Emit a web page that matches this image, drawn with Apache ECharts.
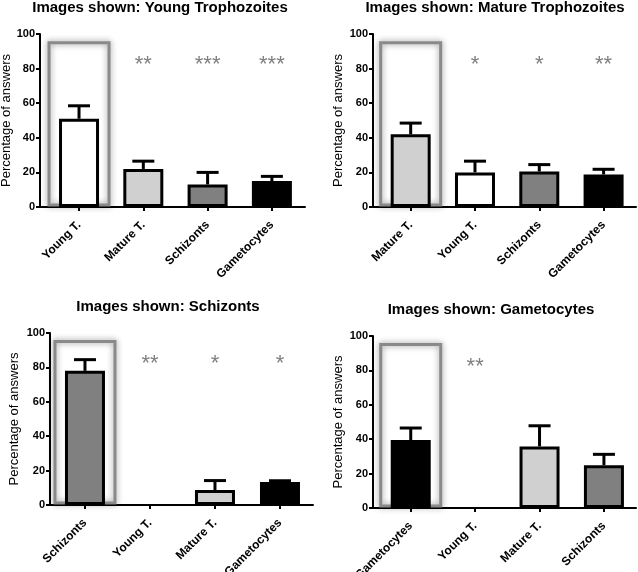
<!DOCTYPE html>
<html>
<head>
<meta charset="utf-8">
<script src="https://cdn.jsdelivr.net/npm/echarts@6/dist/echarts.min.js"></script>
<style>html,body{margin:0;padding:0;background:#fff}#c{width:638px;height:572px}</style>
</head>
<body>
<div id="c"></div>
<script>
// ---- data ----
const titles = ['Images shown: Young Trophozoites', 'Images shown: Mature Trophozoites', 'Images shown: Schizonts', 'Images shown: Gametocytes'];
const cats1 = ['Young T.', 'Mature T.', 'Schizonts', 'Gametocytes'];
const vals1 = [51, 22, 13, 15];
const errs1 = [7.5, 4.5, 7, 2.7];
const stars1 = ['', '**', '***', '***'];
const cats2 = ['Mature T.', 'Young T.', 'Schizonts', 'Gametocytes'];
const vals2 = [42, 20, 20.5, 18.8];
const errs2 = [6.5, 6.5, 4, 3];
const stars2 = ['', '*', '*', '**'];
const cats3 = ['Schizonts', 'Young T.', 'Mature T.', 'Gametocytes'];
const vals3 = [78, 0, 8.7, 13.3];
const errs3 = [6.5, 0, 5.5, 0.8];
const stars3 = ['', '**', '*', '*'];
const cats4 = ['Gametocytes', 'Young T.', 'Mature T.', 'Schizonts'];
const vals4 = [39.5, 0, 35.8, 24.9];
const errs4 = [7, 0, 12, 6.3];
const stars4 = ['', '**', '', ''];
const highlightValue = 95;
const starLevel = 82;

// ---- styling / layout ----
const FONT = 'Arial, "Liberation Sans", sans-serif';
const catColor = {'Young T.': '#ffffff', 'Mature T.': '#d0d0d0', 'Schizonts': '#808080', 'Gametocytes': '#000000'};
const panels = [
  {cats: cats1, vals: vals1, errs: errs1, stars: stars1, grid: {left: 40, top: 34, width: 265, height: 173}, xr: [-0.607, 3.515], titleX: 160, titleY: 0, nameGap: 27.5},
  {cats: cats2, vals: vals2, errs: errs2, stars: stars2, grid: {left: 373, top: 34, width: 263, height: 173}, xr: [-0.586, 3.504], titleX: 495, titleY: 0, nameGap: 28},
  {cats: cats3, vals: vals3, errs: errs3, stars: stars3, grid: {left: 50, top: 333, width: 263, height: 172}, xr: [-0.538, 3.508], titleX: 168, titleY: 299, nameGap: 29},
  {cats: cats4, vals: vals4, errs: errs4, stars: stars4, grid: {left: 373, top: 336, width: 263, height: 172}, xr: [-0.586, 3.498], titleX: 491, titleY: 302, nameGap: 28.5}
];

const option = {
  animation: false,
  backgroundColor: '#fff',
  title: [], grid: [], xAxis: [], yAxis: [], series: []
};

panels.forEach((p, k) => {
  option.title.push({
    text: titles[k], left: p.titleX, top: p.titleY, textAlign: 'center', padding: 0,
    textStyle: {fontFamily: FONT, fontSize: 15, fontWeight: 'bold', color: '#000'}
  });
  option.grid.push(Object.assign({containLabel: false, outerBoundsMode: 'none'}, p.grid));
  const idx = p.cats.map((_, i) => i);
  option.xAxis.push({
    type: 'value', gridIndex: k, min: p.xr[0], max: p.xr[1],
    splitLine: {show: false},
    axisLine: {show: true, onZero: false, lineStyle: {color: '#000', width: 2}},
    axisTick: {show: true, customValues: idx, length: 4, inside: false, lineStyle: {color: '#000', width: 2}},
    axisLabel: {
      customValues: idx, rotate: 45, margin: 16, color: '#000',
      fontFamily: FONT, fontSize: 12, fontWeight: 'bold',
      formatter: (v) => p.cats[Math.round(v)] || ''
    }
  });
  option.yAxis.push({
    type: 'value', gridIndex: k, min: 0, max: 100, interval: 20,
    name: 'Percentage of answers', nameLocation: 'middle', nameGap: p.nameGap,
    nameTextStyle: {fontFamily: FONT, fontSize: 13, color: '#000'},
    splitLine: {show: false},
    axisLine: {show: true, onZero: false, lineStyle: {color: '#000', width: 2}},
    axisTick: {show: true, length: 4, lineStyle: {color: '#000', width: 2}},
    axisLabel: {margin: 5, color: '#000', fontFamily: FONT, fontSize: 11, fontWeight: 'bold'}
  });
  // highlight box around the first (shown) category
  option.series.push({
    type: 'custom', xAxisIndex: k, yAxisIndex: k, z: 1, silent: true,
    data: [[0, highlightValue]],
    renderItem: (params, api) => {
      const top = api.coord([api.value(0), api.value(1)]);
      const bot = api.coord([api.value(0), 0]);
      return {
        type: 'rect',
        shape: {x: top[0] - 30, y: top[1], width: 60, height: bot[1] - top[1] - 2},
        style: {fill: 'none', stroke: '#8a8a8a', lineWidth: 3, shadowBlur: 6, shadowColor: 'rgba(0,0,0,0.45)'}
      };
    }
  });
  // bars
  option.series.push({
    type: 'bar', xAxisIndex: k, yAxisIndex: k, z: 3, barWidth: 40, silent: true,
    data: p.vals.map((v, i) => ({
      value: [i, v],
      itemStyle: {color: catColor[p.cats[i]], borderColor: '#000', borderWidth: v > 0 ? 3 : 0}
    }))
  });
  // error bars (upper only)
  option.series.push({
    type: 'custom', xAxisIndex: k, yAxisIndex: k, z: 4, silent: true,
    data: p.vals.map((v, i) => [i, v, p.errs[i]]),
    renderItem: (params, api) => {
      const x = api.value(0), v = api.value(1), e = api.value(2);
      if (!e) return null;
      const a = api.coord([x, v]);
      const b = api.coord([x, v + e]);
      return {
        type: 'group',
        children: [
          {type: 'line', shape: {x1: a[0], y1: a[1], x2: b[0], y2: b[1]}, style: {stroke: '#000', lineWidth: 3}},
          {type: 'line', shape: {x1: b[0] - 11, y1: b[1], x2: b[0] + 11, y2: b[1]}, style: {stroke: '#000', lineWidth: 3}}
        ]
      };
    }
  });
  // significance stars
  option.series.push({
    type: 'custom', xAxisIndex: k, yAxisIndex: k, z: 5, silent: true,
    data: p.stars.map((s, i) => [i, starLevel]),
    renderItem: (params, api) => {
      const s = p.stars[params.dataIndex];
      if (!s) return null;
      const c = api.coord([api.value(0), api.value(1)]);
      return {
        type: 'text',
        style: {text: s, x: c[0], y: c[1], textAlign: 'center', textVerticalAlign: 'middle', fill: '#808080', font: '22px ' + FONT}
      };
    }
  });
});

const chart = echarts.init(document.getElementById('c'), null, {renderer: 'canvas'});
chart.setOption(option);
</script>
</body>
</html>
